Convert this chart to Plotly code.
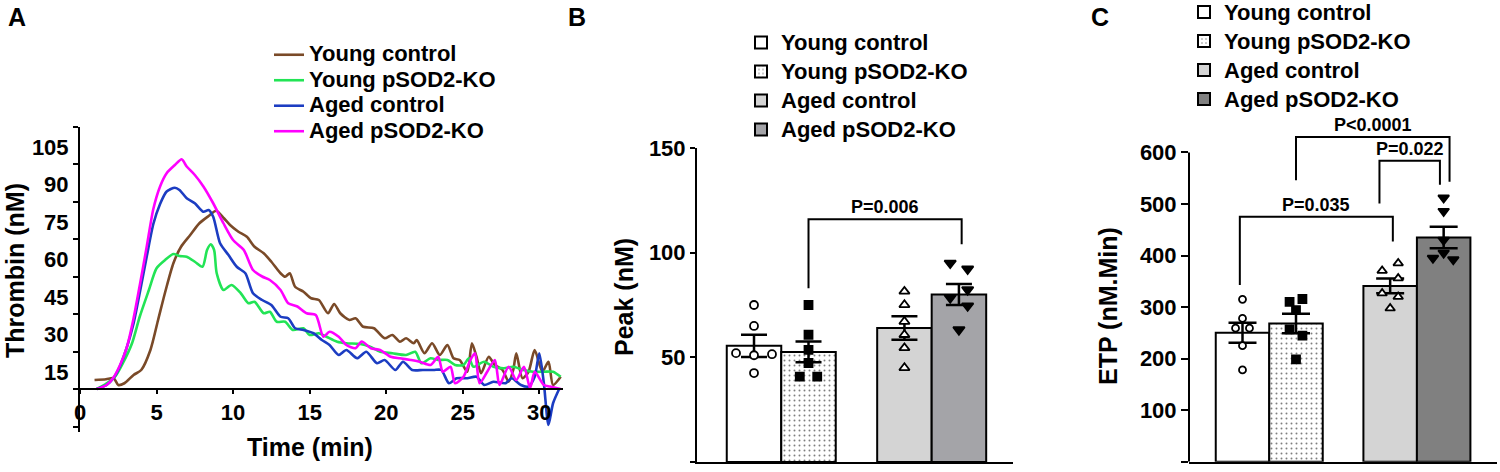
import plotly.graph_objects as go

# ---------------- Panel A : thrombin generation curves ----------------
time_young_ctrl = [0.95, 1.7, 2.2, 2.5, 2.9, 3.5, 4.0, 4.6, 5.1, 5.6, 6.1, 6.6, 7.2, 7.8, 8.4, 8.9,
                   9.4, 9.8, 10.35, 10.9, 11.4, 12.0, 12.5, 13.1, 13.4, 13.7, 14.05, 14.6, 15.1,
                   15.6, 16.2, 16.6, 17.0, 17.6, 18.0, 18.5, 19.2, 19.9, 20.4, 20.9, 21.3, 21.8,
                   22.0, 22.5, 23.0, 23.5, 24.0, 24.4, 24.8, 25.3, 25.6, 25.9, 26.2, 26.7, 27.1,
                   27.6, 28.0, 28.3, 28.5, 28.9, 29.3, 29.7, 30.2, 30.6, 30.9, 31.4]
thrombin_young_ctrl = [3.6, 3.9, 4.3, 1.6, 2.3, 5.6, 7.6, 15.6, 27.6, 39.6, 50.3, 56.9, 61.6, 66.3,
                       69.2, 71.3, 68.3, 65.6, 62.9, 60.9, 56.9, 54.3, 50.9, 46.3, 44.9, 46.3, 40.9,
                       38.9, 36.3, 35.6, 30.3, 34.0, 30.3, 27.6, 28.3, 24.9, 24.3, 20.3, 21.6, 18.9,
                       20.3, 18.3, 19.6, 14.3, 18.3, 13.6, 17.6, 12.3, 11.6, 6.9, 18.3, 12.9, 6.3,
                       12.9, 9.6, 7.6, 2.9, 7.6, 14.3, 4.3, 6.9, 15.6, 6.9, 10.9, 1.6, 4.9]

time_young_ko = [1.09, 1.74, 2.3, 2.8, 3.4, 3.9, 4.5, 5.0, 5.56, 6.1, 6.5, 6.97, 7.5, 8.0, 8.3, 8.54,
                 8.76, 8.93, 9.37, 9.9, 10.5, 11.0, 11.4, 12.0, 12.4, 12.85, 13.4, 13.9, 14.6, 15.0,
                 15.6, 16.1, 16.8, 17.4, 18.3, 18.95, 19.6, 20.4, 21.3, 21.9, 22.3, 22.9, 23.4, 24.0,
                 24.5, 25.05, 25.4, 25.7, 26.4, 27.0, 27.7, 28.3, 28.97, 29.6, 30.3, 30.9, 31.4]
thrombin_young_ko = [0.0, 2.3, 5.0, 10.3, 18.3, 28.9, 39.6, 48.3, 51.6, 54.0, 53.2, 52.9, 50.9, 48.9,
                     55.6, 57.9, 55.6, 46.3, 39.6, 41.6, 38.3, 34.3, 34.9, 30.3, 30.9, 26.9, 26.9,
                     23.6, 24.3, 21.6, 22.3, 20.9, 18.9, 18.3, 18.0, 16.9, 14.9, 14.3, 13.6, 14.9,
                     10.3, 12.3, 11.6, 11.6, 9.6, 9.6, 12.3, 8.9, 10.9, 8.9, 8.3, 8.9, 7.6, 6.9,
                     6.9, 6.9, 4.9]

time_aged_ctrl = [1.09, 1.74, 2.18, 2.6, 3.05, 3.49, 3.92, 4.36, 4.79, 5.23, 5.66, 6.2, 6.5, 6.97,
                  7.5, 8.06, 8.4, 8.7, 9.15, 9.7, 10.24, 10.8, 11.3, 11.9, 12.5, 13.1, 13.6, 14.05,
                  14.6, 15.25, 15.8, 16.3, 16.9, 17.4, 18.1, 18.7, 19.4, 19.9, 20.6, 21.1, 21.7,
                  22.4, 23.1, 23.6, 24.1, 24.6, 25.3, 25.9, 26.4, 27.0, 27.8, 28.2, 28.8, 29.3,
                  29.7, 30.0, 30.3, 30.6, 30.9, 31.3]
thrombin_aged_ctrl = [0.0, 1.6, 4.3, 9.0, 16.5, 26.0, 39.0, 53.0, 66.0, 74.0, 79.0, 80.5, 79.6, 76.3,
                      74.3, 70.9, 71.6, 68.9, 58.3, 53.6, 48.9, 46.3, 38.3, 35.6, 33.6, 28.9, 28.3,
                      24.3, 23.6, 22.3, 19.6, 17.6, 13.6, 15.6, 12.3, 14.9, 10.3, 11.6, 7.6, 10.9,
                      7.6, 7.6, 7.6, 7.6, 2.3, 4.3, 4.3, 4.9, 1.6, 2.9, 2.3, 4.3, 1.6, 1.0, 4.9, 14.3,
                      2.3, -14.4, -5.7, 0.0]

time_aged_ko = [1.09, 1.74, 2.18, 2.61, 3.05, 3.49, 3.92, 4.36, 4.79, 5.23, 5.66, 6.2, 6.64, 6.97,
                7.5, 8.06, 8.7, 9.37, 10.0, 10.7, 11.3, 11.9, 12.4, 13.1, 13.6, 14.2, 14.8, 15.4,
                15.9, 16.3, 16.9, 17.4, 18.0, 18.4, 19.0, 19.6, 20.3, 20.9, 21.6, 22.2, 22.9, 23.4,
                23.7, 24.2, 24.5, 25.05, 25.5, 25.8, 26.1, 26.6, 27.1, 27.4, 28.0, 28.5, 29.0,
                29.4, 29.7, 30.3, 30.7, 31.4]
thrombin_aged_ko = [0.0, 1.6, 4.5, 9.5, 16.5, 28.0, 42.0, 57.0, 72.0, 81.0, 86.3, 89.6, 91.9, 89.0,
                    85.6, 81.0, 74.3, 66.3, 59.6, 55.6, 47.6, 45.0, 43.6, 39.6, 34.3, 33.0, 30.3,
                    29.6, 20.9, 22.9, 20.9, 17.6, 16.3, 19.0, 16.3, 15.6, 12.9, 12.3, 11.6, 10.9,
                    9.6, 12.9, 6.9, 8.9, 2.3, 4.9, 11.6, 14.3, 2.3, 6.9, 11.6, 1.6, 8.9, 3.6, 8.9,
                    0.3, 6.9, 1.6, 1.0, 0.0]

time_ticks = [0, 5, 10, 15, 20, 25, 30]
thrombin_tick_labels = [15, 30, 45, 60, 75, 90, 105]
thrombin_tick_marks = [-15, 0, 15, 30, 45, 60, 75, 90, 105]

# ---------------- Panels B and C : bar charts ----------------
groups = ["Young control", "Young pSOD2-KO", "Aged control", "Aged pSOD2-KO"]

peak_mean = [55.5, 52.6, 64.0, 80.0]
peak_sem = [5.3, 5.0, 5.6, 5.0]
peak_young_ctrl = [75.0, 65.0, 52.0, 51.0, 51.5, 42.5]
peak_young_ko = [75.0, 60.8, 53.6, 47.3, 40.8, 40.8]
peak_aged_ctrl = [81.5, 75.1, 67.1, 60.8, 54.5, 45.0]
peak_aged_ko = [95.0, 92.2, 82.3, 78.5, 74.6, 63.2]
peak_ticks = [0, 50, 100, 150]

etp_mean = [250, 268, 341, 435]
etp_sem = [19.4, 19.0, 14.2, 21.0]
etp_young_ctrl = [315, 278, 259, 259, 225, 178]
etp_young_ko = [310, 315.6, 294, 256.8, 244.4, 198.6]
etp_aged_ctrl = [370.5, 385, 355.7, 326.6, 320, 297.5]
etp_aged_ko = [512, 486, 430, 405, 395, 392]
etp_ticks = [0, 100, 200, 300, 400, 500, 600]

peak_pvalues = ["P=0.006"]
etp_pvalues = ["P=0.035", "P<0.0001", "P=0.022"]

# ---------------- styling / layout helpers (not data) ----------------
FONT = "Liberation Sans, Arial, sans-serif"
W, H = 1500, 472
line_colors = ["#7a4a28", "#22e455", "#1c3dc2", "#ff00ff"]
bar_pos = [0, 1, 2.76, 3.76]
peak_colors = ["white", "white", "#d4d4d4", "#a4a4a8"]
etp_colors = ["white", "white", "#d4d4d4", "#808080"]
symbols = ["circle", "square", "triangle-up", "triangle-down"]
sym_fill = ["white", "black", "white", "black"]
peak_jitter = [[0, 0, -0.33, 0, 0.33, 0], [0, 0, 0, 0, -0.16, 0.16],
               [0, 0, 0, 0, 0, 0], [-0.16, 0.16, 0.16, -0.16, 0.16, 0]]
etp_jitter = [[0, 0, -0.13, 0.13, 0, 0], [-0.12, 0.12, 0, -0.12, 0.12, 0],
              [-0.15, 0.15, 0.15, -0.15, 0.15, 0], [0, 0, 0, 0, -0.2, 0.18]]
peak_sizes = [8, 8, 9, 10]
etp_sizes = [7, 8, 8.5, 9.5]
# bracket geometry: (left group, right group, left dx, right dx, left bottom, top, right bottom)
peak_brackets = [(1, 3, 0.0, 0.05, 83, 116, 104)]
etp_brackets = [(0, 2, -0.05, 0.05, 343, 475, 427),
                (1, 3, 0.0, 0.11, 546, 630, 543),
                (2, 3, -0.2, -0.07, 501, 584, 537)]


def px_x(p):
    return p / W


def px_y(p):
    return 1 - p / H


def bold(size):
    return dict(family=FONT, size=size, color="black", weight="bold")


def big(txt):
    # legend label drawn at 22px while the row spacing follows the (smaller) legend font size
    return f"<span style='font-size:22px'>{txt}</span>"


fig = go.Figure()

# Panel A traces
series_a = [(time_young_ctrl, thrombin_young_ctrl), (time_young_ko, thrombin_young_ko),
            (time_aged_ctrl, thrombin_aged_ctrl), (time_aged_ko, thrombin_aged_ko)]
for i, (tt, vv) in enumerate(series_a):
    fig.add_trace(go.Scatter(x=tt, y=vv, mode="lines", name=big(groups[i]),
                             line=dict(color=line_colors[i], width=2.6, shape="spline", smoothing=0.7),
                             xaxis="x", yaxis="y", legend="legend"))

# Panels B and C
panels = [
    ("x2", "y2", "legend2", peak_mean, peak_sem,
     [peak_young_ctrl, peak_young_ko, peak_aged_ctrl, peak_aged_ko], peak_colors, peak_jitter, peak_sizes, 13),
    ("x3", "y3", "legend3", etp_mean, etp_sem,
     [etp_young_ctrl, etp_young_ko, etp_aged_ctrl, etp_aged_ko], etp_colors, etp_jitter, etp_sizes, 14),
]
for xa, ya, lg, means, sems, pts, colors, jit, sizes, capw in panels:
    for i, g in enumerate(groups):
        pattern = dict(shape=".", fgcolor="black", bgcolor="white", size=5, solidity=0.12) if i == 1 else dict(shape="")
        fig.add_trace(go.Bar(x=[bar_pos[i]], y=[means[i]], width=1, name=big(g), legend=lg,
                             marker=dict(color=colors[i], line=dict(color="black", width=2), pattern=pattern),
                             error_y=dict(type="data", array=[sems[i]], color="black", thickness=2.5, width=capw),
                             xaxis=xa, yaxis=ya))
    for i, g in enumerate(groups):
        xs = [bar_pos[i] + d for d in jit[i]]
        fig.add_trace(go.Scatter(x=xs, y=pts[i], mode="markers", showlegend=False,
                                 marker=dict(symbol=symbols[i], size=sizes[i], color=sym_fill[i],
                                             line=dict(color="black", width=1.8)),
                                 xaxis=xa, yaxis=ya))

shapes = []
annotations = []
for (xa, ya, brackets, labels) in [("x2", "y2", peak_brackets, peak_pvalues),
                                    ("x3", "y3", etp_brackets, etp_pvalues)]:
    for (gl, gr, dl, dr, yl, yt, yr), lab in zip(brackets, labels):
        xl = bar_pos[gl] + dl
        xr = bar_pos[gr] + dr
        shapes.append(dict(type="path", xref=xa, yref=ya,
                           path=f"M{xl},{yl} L{xl},{yt} L{xr},{yt} L{xr},{yr}",
                           line=dict(color="black", width=2)))
        annotations.append(dict(x=(xl + xr) / 2, y=yt, xref=xa, yref=ya, text=lab, showarrow=False,
                                xanchor="center", yanchor="bottom", yshift=0, font=bold(18)))

# y-axis line for panel C (axis range extended above 600 for brackets)
shapes.append(dict(type="line", xref="x3 domain", yref="y3", x0=0, x1=0, y0=0, y1=600,
                   line=dict(color="black", width=2)))


def label(x, y, text, size=25, angle=0):
    return dict(x=px_x(x), y=px_y(y), xref="paper", yref="paper", text=text, textangle=angle,
                showarrow=False, xanchor="center", yanchor="middle", font=bold(size))


# Panel letters and axis titles
annotations += [
    label(17, 17, "A"),
    label(577, 17, "B"),
    label(1100, 17, "C"),
    label(310, 447, "Time (min)"),
    label(15, 271, "Thrombin (nM)", angle=-90),
    label(624, 297, "Peak (nM)", angle=-90),
    label(1108, 306, "ETP (nM.Min)", angle=-90),
]

axis_common = dict(showgrid=False, zeroline=False, linecolor="black", linewidth=2,
                   tickwidth=2, tickfont=bold(22), automargin=False)

legend_common = dict(xanchor="left", yanchor="top", bgcolor="rgba(0,0,0,0)", borderwidth=0,
                     traceorder="normal", itemwidth=30, tracegroupgap=0)

fig.update_layout(
    width=W, height=H, margin=dict(l=0, r=0, t=0, b=0, autoexpand=False), autosize=False,
    paper_bgcolor="white", plot_bgcolor="white", barmode="overlay",
    font=dict(family=FONT, color="black", weight="bold"),
    xaxis=dict(domain=[px_x(80), px_x(563)], range=[0, 31.55], anchor="free", position=px_y(389),
               showline=True, ticks="outside", ticklen=4, tickcolor="black", tickvals=time_ticks,
               ticktext=[str(v) for v in time_ticks], **axis_common),
    yaxis=dict(domain=[px_y(431.5), px_y(126.5)], range=[-17, 105], anchor="x", showline=True,
               tickmode="array", tickvals=[v - 8.3 for v in thrombin_tick_labels],
               ticktext=[str(v) for v in thrombin_tick_labels], ticks="outside", ticklen=5,
               tickcolor="rgba(0,0,0,0)",
               minor=dict(tickmode="array", tickvals=thrombin_tick_marks, ticks="outside",
                          ticklen=5, tickwidth=2, tickcolor="black"),
               **axis_common),
    xaxis2=dict(domain=[px_x(697), px_x(1013)], range=[-1.046, 4.752], anchor="y2", showline=True,
                showticklabels=False, ticks="", **axis_common),
    yaxis2=dict(domain=[px_y(462), px_y(148)], range=[0, 150], anchor="x2", showline=True,
                tickvals=peak_ticks, ticks="outside", ticklen=5, tickcolor="black", **axis_common),
    xaxis3=dict(domain=[px_x(1189), px_x(1497)], range=[-1.0, 4.757], anchor="y3", showline=True,
                showticklabels=False, ticks="", **axis_common),
    yaxis3=dict(domain=[px_y(461.7), px_y(106.0)], range=[0, 690], anchor="x3", showline=False,
                tickvals=etp_ticks, ticks="outside", ticklen=7, tickcolor="black", **axis_common),
    legend=dict(x=px_x(269), y=px_y(37), font=bold(17.3), **legend_common),
    legend2=dict(x=px_x(741), y=px_y(23), font=bold(20), **legend_common),
    legend3=dict(x=px_x(1184), y=px_y(-7.5), font=bold(20), **legend_common),
    shapes=shapes, annotations=annotations,
)

fig.write_html("out.html", config={"displayModeBar": False},
               post_script="document.body.style.margin='0px';")
